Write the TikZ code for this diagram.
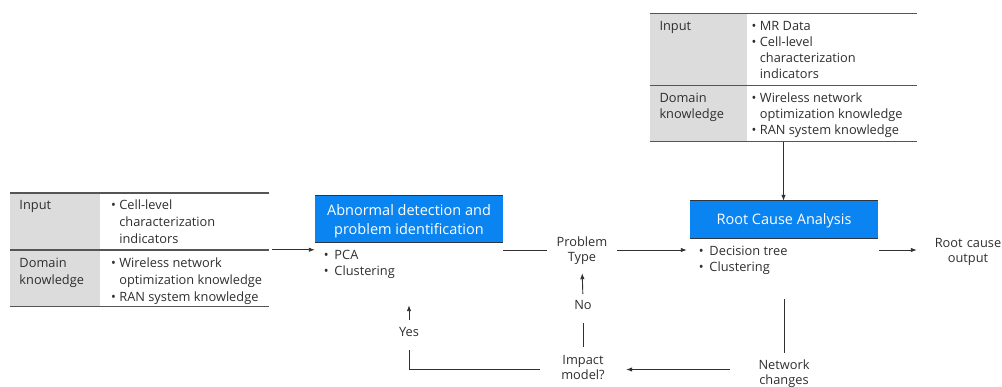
\documentclass[tikz,border=0pt]{standalone}
\usepackage{fontspec}
\setmainfont{Open Sans}
\usetikzlibrary{arrows.meta}
\definecolor{ink}{HTML}{2E2E2E}
\definecolor{wire}{HTML}{303030}
\definecolor{rulegray}{HTML}{555555}
\definecolor{cellgray}{HTML}{DCDCDC}
\definecolor{ericblue}{HTML}{0A84F0}
\definecolor{boxedge}{HTML}{2D3540}
% font sizes: tables (two spacings), labels, box titles
\newcommand{\tabfsA}{\fontsize{12.8}{16.8}\selectfont}
\newcommand{\tabfsB}{\fontsize{12.8}{16}\selectfont}
\newcommand{\labfs}{\fontsize{12.8}{15}\selectfont}
\newcommand{\titlefs}{\fontsize{14.5}{18.5}\selectfont}
\newcommand{\tb}{\makebox[8.2pt][l]{\textbullet}}
\newcommand{\bb}{\makebox[10.7pt][l]{\textbullet}}
\begin{document}
\begin{tikzpicture}[x=1pt,y=-1pt,
  txt/.style={text=ink, inner sep=0pt},
  lbl/.style={txt, font=\labfs, align=center},
  rule/.style={draw=rulegray, line width=1.3pt},
  conn/.style={draw=wire, line width=0.9pt},
  arr/.style={conn, -{Latex[length=6pt,width=4.5pt]}},
  bluebox/.style={fill=ericblue, text=white, font=\titlefs, align=center, inner sep=0pt},
  edge/.style={draw=boxedge, line width=1pt},
  frame/.style={inner sep=0pt, outer sep=0pt}]
\useasboundingbox (0,0) rectangle (1002,387);
\coordinate (flow) at (0,250);

% ---- input table (left) ----
\node[frame, minimum width=259pt, minimum height=113.5pt] (lt) at (139.5,249.75) {};
\fill[cellgray] (10,193) rectangle (100,306.5);
\draw[rule] (10,193) -- (269,193);
\draw[rule] (10,250) -- (269,250);
\draw[rule] (10,306.5) -- (269,306.5);
\node[txt, font=\tabfsA, anchor=north west] (ltin) at (19.3,197.5)
  {\begin{tabular}{@{}l@{}}Input\end{tabular}};
\node[txt, font=\tabfsA, anchor=north west] (ltinl) at (111,197.5)
  {\begin{tabular}{@{}l@{}l@{}}\tb&Cell-level\\&characterization\\&indicators\end{tabular}};
\node[txt, font=\tabfsA, anchor=north west] (ltdk) at (19.3,255.5)
  {\begin{tabular}{@{}l@{}}Domain\\knowledge\end{tabular}};
\node[txt, font=\tabfsA, anchor=north west] (ltdkl) at (111,255.5)
  {\begin{tabular}{@{}l@{}l@{}}\tb&Wireless network\\&optimization knowledge\\\tb&RAN system knowledge\end{tabular}};

% ---- input table (top right) ----
\node[frame, minimum width=267pt, minimum height=128.4pt] (tt) at (783.5,77.5) {};
\fill[cellgray] (650,13.3) rectangle (747,141.7);
\draw[rule] (650,13.3) -- (917,13.3);
\draw[rule] (650,85.7) -- (917,85.7);
\draw[rule] (650,141.7) -- (917,141.7);
\node[txt, font=\tabfsB, anchor=north west] (ttin) at (659.3,18.8)
  {\begin{tabular}{@{}l@{}}Input\end{tabular}};
\node[txt, font=\tabfsB, anchor=north west] (ttinl) at (751.5,18.8)
  {\begin{tabular}{@{}l@{}l@{}}\tb&MR Data\\\tb&Cell-level\\&characterization\\&indicators\end{tabular}};
\node[txt, font=\tabfsB, anchor=north west] (ttdk) at (659.3,91.1)
  {\begin{tabular}{@{}l@{}}Domain\\knowledge\end{tabular}};
\node[txt, font=\tabfsB, anchor=north west] (ttdkl) at (751.5,91.1)
  {\begin{tabular}{@{}l@{}l@{}}\tb&Wireless network\\&optimization knowledge\\\tb&RAN system knowledge\end{tabular}};

% ---- process boxes ----
\node[bluebox, minimum width=188pt, minimum height=46pt] (abn) at (409,219)
  {\rule{0pt}{18.05pt}Abnormal detection and\\\strut problem identification};
\draw[edge] (abn.south west) -- (abn.south east);
\draw[edge, line width=0.6pt] (abn.north west) -- (abn.north east);
\node[txt, font=\tabfsB, anchor=north west] (abnl) at (323.6,247.8)
  {\begin{tabular}{@{}l@{}l@{}}\bb&PCA\\\bb&Clustering\end{tabular}};

\node[bluebox, minimum width=188pt, minimum height=37pt] (rca) at (784,219.5)
  {\rule{0pt}{16.55pt}\strut Root Cause Analysis};
\draw[edge] (rca.south west) -- (rca.south east);
\draw[edge, line width=0.6pt] (rca.north west) -- (rca.north east);
\node[txt, font=\tabfsB, anchor=north west] (rcal) at (698.6,243.8)
  {\begin{tabular}{@{}l@{}l@{}}\bb&Decision tree\\\bb&Clustering\end{tabular}};

% ---- labels ----
\node[lbl, text width=70pt] (ptype) at (582,251.5) {\strut Problem\\\strut Type};
\node[lbl, text width=102pt] (out) at (968,251.8) {\strut Root cause\\\strut output};
\node[lbl, text width=86pt] (impact) at (583,369.5) {\strut Impact\\\strut model?};
\node[lbl, text width=108pt] (net) at (784,374.5) {\strut Network\\\strut changes};
\node[lbl] (yes) at (409,333.7) {\strut Yes};
\node[lbl] (no) at (583,307) {\strut No};

% ---- connectors ----
\draw[arr, shorten <=3pt] (lt.east) -- (lt.east -| abn.west);
\draw[conn] (abn.east |- flow) -- (ptype.west |- flow);
\draw[arr, shorten >=3pt] (ptype.east |- flow) -- (rca.west |- flow);
\draw[arr, shorten <=1pt] (rca.east |- flow) -- (out.west |- flow);
\draw[arr] (tt.south) -- (tt.south |- rca.north);
\draw[conn, shorten <=61pt, shorten >=6.5pt] (net.north |- rca.south) -- (net.north);
\draw[arr] (net.west |- impact.east) -- (impact.east);
\draw[conn, shorten >=8.8pt] (impact.west) -| (yes.south);
\draw[arr, shorten <=6.2pt, shorten >=63pt] (yes.north) -- (abn.south);
\draw[conn, shorten <=7.5pt, shorten >=8.5pt] (impact.north) -- (no.south);
\draw[arr, shorten <=5.5pt, shorten >=6.5pt] (no.north) -- (ptype.south);
\end{tikzpicture}
\end{document}
